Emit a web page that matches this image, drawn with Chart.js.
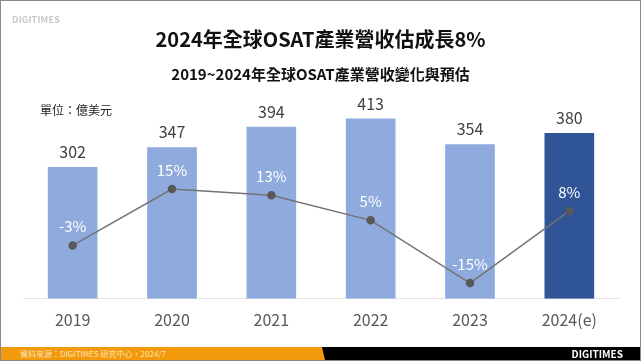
<!doctype html>
<html lang="zh-Hant">
<head>
<meta charset="utf-8">
<title>2024年全球OSAT產業營收估成長8%</title>
<style>
  * { box-sizing: border-box; margin: 0; padding: 0; }
  body { background: #fff; font-family: "Noto Sans CJK TC", "Noto Sans", sans-serif; }
  .frame { position: relative; width: 641px; height: 361px; border: 1px solid #8a8a8a; overflow: hidden; }
  .frame canvas { position: absolute; left: 0; top: 0; }
  .logo { position: absolute; left: 11px; top: 12px; font-size: 9px; font-weight: bold; color: #c9c9c9; letter-spacing: 0.2px; }
  .title { position: absolute; left: 0; width: 639px; top: 23px; text-align: center; font-size: 20px; font-weight: bold; color: #111; }
  .subtitle { position: absolute; left: 0; width: 639px; top: 62px; text-align: center; font-size: 15px; font-weight: bold; color: #111; }
  .unit { position: absolute; left: 39px; top: 100px; font-size: 12px; color: #222; }
  .foot { position: absolute; left: 0; top: 346px; width: 639px; height: 13px; background: #f39a0c; }
  .foot .dark { position: absolute; inset: 0; background: #000; clip-path: polygon(321px 0, 100% 0, 100% 100%, 324px 100%); }
  .foot .src { position: absolute; left: 19px; top: 1px; font-size: 8px; line-height: 11px; color: #fbe3bb; }
  .foot .brand { position: absolute; right: 17px; top: 0; font-size: 10px; line-height: 13px; font-weight: bold; color: #fff; }
</style>
</head>
<body>
<div class="frame">
  <div id="wrap" style="position:absolute;left:0;top:0;width:639px;height:359px;"><canvas id="chart"></canvas></div>
  <div class="logo">DIGITIMES</div>
  <div class="title">2024年全球OSAT產業營收估成長8%</div>
  <div class="subtitle">2019~2024年全球OSAT產業營收變化與預估</div>
  <div class="unit">單位：億美元</div>
  <div class="foot">
    <div class="dark"></div>
    <div class="src">資料來源：DIGITIMES 研究中心，2024/7</div>
    <div class="brand">DIGITIMES</div>
  </div>
</div>

<script src="https://cdn.jsdelivr.net/npm/chart.js@4/dist/chart.umd.min.js"></script>
<script>
// data
const years = ['2019', '2020', '2021', '2022', '2023', '2024(e)'];
const revenue = [302, 347, 394, 413, 354, 380];   // 億美元
const growth = [-3, 15, 13, 5, -15, 8];            // %
const barColors = ['#8faadc', '#8faadc', '#8faadc', '#8faadc', '#8faadc', '#2f5597'];

const labelFont = '"Noto Sans CJK TC", "Noto Sans", sans-serif';

// draws the value labels above bars and the % labels above the points
const valueLabels = {
  id: 'valueLabels',
  afterDatasetsDraw(chart) {
    const ctx = chart.ctx;
    const lineMeta = chart.getDatasetMeta(0);
    const barMeta = chart.getDatasetMeta(1);
    ctx.save();
    ctx.textAlign = 'center';
    ctx.textBaseline = 'middle';

    ctx.font = '16px ' + labelFont;
    ctx.fillStyle = '#404040';
    barMeta.data.forEach((bar, i) => {
      ctx.fillText(String(revenue[i]), bar.x, bar.y - 15);
    });

    ctx.font = '15px ' + labelFont;
    ctx.fillStyle = '#ffffff';
    lineMeta.data.forEach((pt, i) => {
      ctx.fillText(growth[i] + '%', pt.x, pt.y - 19);
    });
    ctx.restore();
  }
};

const chart = new Chart(document.getElementById('chart'), {
  type: 'bar',
  data: {
    labels: years,
    datasets: [
      {
        type: 'line',
        data: growth,
        yAxisID: 'y2',
        borderColor: '#737373',
        borderWidth: 1.5,
        pointRadius: 3.5,
        pointBackgroundColor: '#595959',
        pointBorderColor: '#595959',
        tension: 0,
        order: 0
      },
      {
        type: 'bar',
        data: revenue,
        yAxisID: 'y',
        backgroundColor: barColors,
        categoryPercentage: 1,
        barPercentage: 0.5,
        order: 1
      }
    ]
  },
  options: {
    responsive: true,
    maintainAspectRatio: false,
    animation: false,
    layout: { padding: { left: 22, right: 21, top: 97, bottom: 18 } },
    plugins: {
      legend: { display: false },
      tooltip: { enabled: false }
    },
    scales: {
      x: {
        grid: { display: false, drawTicks: false },
        border: { display: true, color: '#e3e3e3', width: 1 },
        ticks: { color: '#595959', padding: 12, font: { size: 16, family: labelFont } }
      },
      y: { display: false, min: 0, max: 460 },
      y2: { display: false, min: -20, max: 44 }
    }
  },
  plugins: [valueLabels]
});
</script>
</body>
</html>
